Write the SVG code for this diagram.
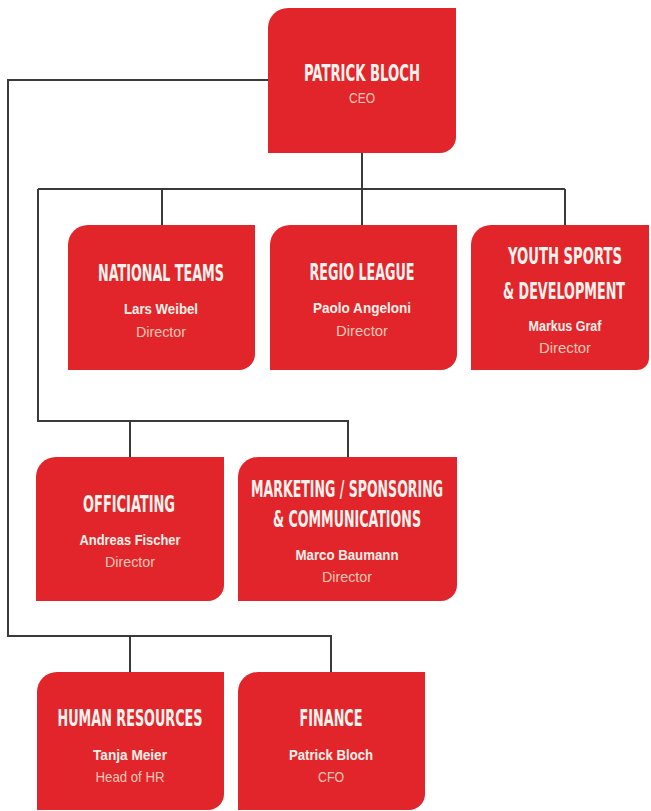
<svg xmlns="http://www.w3.org/2000/svg" width="651" height="811" viewBox="0 0 651 811">
<style>
.box{fill:#e2252b}
.t{font-family:"DejaVu Sans Condensed","Liberation Sans",sans-serif;font-weight:bold;font-size:23px;fill:#fdf3ee;text-anchor:middle}
.ty{font-size:17px}
.n{font-family:"Liberation Sans",Arial,sans-serif;font-weight:bold;font-size:15px;fill:#fdf0e8;text-anchor:middle}
.s{font-family:"Liberation Sans",Arial,sans-serif;font-size:15px;fill:#f7c7b8;text-anchor:middle}
.c{fill:none;stroke:#3a3a3a;stroke-width:2}
</style>
<rect width="651" height="811" fill="#ffffff"/>
<g id="connectors">
<path class="c" d="M362,153 V225"/>
<path class="c" d="M38,189 H565"/>
<path class="c" d="M162,189 V225"/>
<path class="c" d="M565,189 V225"/>
<path class="c" d="M38,189 V421 H348 V457"/>
<path class="c" d="M130,421 V457"/>
<path class="c" d="M268,80 H8 V636 H331 V672"/>
<path class="c" d="M130,636 V672"/>
</g>
<g id="ceo">
<path class="box" d="M288,8 H456 V137 A16,16 0 0 1 440,153 H268 V28 A20,20 0 0 1 288,8 Z"/>
<text class="t" x="362" y="81" textLength="116" lengthAdjust="spacingAndGlyphs">PATRICK BLOCH</text>
<text class="s" x="362" y="103" textLength="26" lengthAdjust="spacingAndGlyphs">CEO</text>
</g>
<g id="national-teams">
<path class="box" d="M88,225 H255 V354 A16,16 0 0 1 239,370 H68 V245 A20,20 0 0 1 88,225 Z"/>
<text class="t" x="161" y="281" textLength="126" lengthAdjust="spacingAndGlyphs">NATIONAL TEAMS</text>
<text class="n" x="161" y="314" textLength="74" lengthAdjust="spacingAndGlyphs">Lars Weibel</text>
<text class="s" x="161" y="337" textLength="50" lengthAdjust="spacingAndGlyphs">Director</text>
</g>
<g id="regio-league">
<path class="box" d="M290,225 H457 V354 A16,16 0 0 1 441,370 H270 V245 A20,20 0 0 1 290,225 Z"/>
<text class="t" x="362" y="280" textLength="105" lengthAdjust="spacingAndGlyphs">REGIO LEAGUE</text>
<text class="n" x="362" y="313" textLength="98" lengthAdjust="spacingAndGlyphs">Paolo Angeloni</text>
<text class="s" x="362" y="336" textLength="52" lengthAdjust="spacingAndGlyphs">Director</text>
</g>
<g id="youth-sports">
<path class="box" d="M491,225 H649 V358 A12,12 0 0 1 637,370 H471 V245 A20,20 0 0 1 491,225 Z"/>
<text class="t ty" transform="translate(565,264) scale(1,1.35)" x="0" y="0" textLength="114" lengthAdjust="spacingAndGlyphs">YOUTH SPORTS</text>
<text class="t ty" transform="translate(564,299) scale(1,1.35)" x="0" y="0" textLength="122" lengthAdjust="spacingAndGlyphs">&amp; DEVELOPMENT</text>
<text class="n" x="565" y="331" textLength="73" lengthAdjust="spacingAndGlyphs">Markus Graf</text>
<text class="s" x="565" y="353" textLength="52" lengthAdjust="spacingAndGlyphs">Director</text>
</g>
<g id="officiating">
<path class="box" d="M56,457 H224 V585 A16,16 0 0 1 208,601 H36 V477 A20,20 0 0 1 56,457 Z"/>
<text class="t" x="129" y="512" textLength="92" lengthAdjust="spacingAndGlyphs">OFFICIATING</text>
<text class="n" x="130" y="545" textLength="101" lengthAdjust="spacingAndGlyphs">Andreas Fischer</text>
<text class="s" x="130" y="567" textLength="50" lengthAdjust="spacingAndGlyphs">Director</text>
</g>
<g id="marketing">
<path class="box" d="M258,457 H457 V585 A16,16 0 0 1 441,601 H238 V477 A20,20 0 0 1 258,457 Z"/>
<text class="t" x="347" y="497" textLength="192" lengthAdjust="spacingAndGlyphs">MARKETING / SPONSORING</text>
<text class="t" x="347" y="527" textLength="148" lengthAdjust="spacingAndGlyphs">&amp; COMMUNICATIONS</text>
<text class="n" x="347" y="560" textLength="103" lengthAdjust="spacingAndGlyphs">Marco Baumann</text>
<text class="s" x="347" y="582" textLength="50" lengthAdjust="spacingAndGlyphs">Director</text>
</g>
<g id="human-resources">
<path class="box" d="M57,672 H224 V794 A16,16 0 0 1 208,810 H37 V692 A20,20 0 0 1 57,672 Z"/>
<text class="t" x="130" y="726" textLength="145" lengthAdjust="spacingAndGlyphs">HUMAN RESOURCES</text>
<text class="n" x="130" y="760" textLength="74" lengthAdjust="spacingAndGlyphs">Tanja Meier</text>
<text class="s" x="130" y="782" textLength="69" lengthAdjust="spacingAndGlyphs">Head of HR</text>
</g>
<g id="finance">
<path class="box" d="M258,672 H425 V794 A16,16 0 0 1 409,810 H238 V692 A20,20 0 0 1 258,672 Z"/>
<text class="t" x="331" y="726" textLength="63" lengthAdjust="spacingAndGlyphs">FINANCE</text>
<text class="n" x="331" y="760" textLength="84" lengthAdjust="spacingAndGlyphs">Patrick Bloch</text>
<text class="s" x="331" y="782" textLength="26" lengthAdjust="spacingAndGlyphs">CFO</text>
</g>
</svg>
